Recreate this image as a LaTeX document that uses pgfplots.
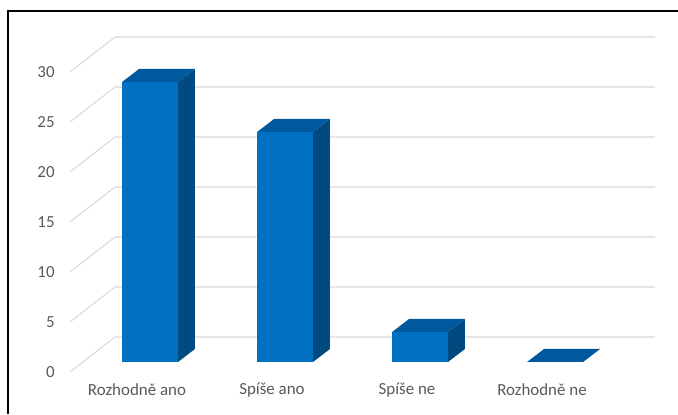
\documentclass[border=0pt]{standalone}
\usepackage{pgfplots}
\pgfplotsset{compat=1.18}
\usepackage{fontspec}
\setmainfont{Carlito}

\definecolor{barfront}{HTML}{0070C0}
\definecolor{bartop}{HTML}{00599E}
\definecolor{barside}{HTML}{004A80}
\definecolor{gridc}{HTML}{D9D9D9}
\definecolor{labc}{HTML}{595959}

% one 3D column: #1 = category position, #2 = value
\newcommand{\colthree}[2]{%
  \pgfmathsetmacro\xl{#1-0.207}%
  \pgfmathsetmacro\xr{#1+0.207}%
  \pgfmathsetmacro\xlb{#1-0.207+0.126}%
  \pgfmathsetmacro\xrb{#1+0.207+0.126}%
  \pgfmathsetmacro\yt{#2+1.3}%
  \addplot[draw=none, fill=barside] coordinates {(\xr,0) (\xrb,1.3) (\xrb,\yt) (\xr,#2)} -- cycle;
  \addplot[draw=none, fill=bartop] coordinates {(\xl,#2) (\xr,#2) (\xrb,\yt) (\xlb,\yt)} -- cycle;
  \addplot[draw=none, fill=barfront] coordinates {(\xl,0) (\xr,0) (\xr,#2) (\xl,#2)} -- cycle;
}

\begin{document}
\begin{tikzpicture}
\begin{axis}[
  width=508.5pt, height=310.5pt, scale only axis,
  xmin=-1.1111, xmax=3.9111,
  ymin=-5.2, ymax=36.2,
  clip=false,
  axis x line*=bottom, axis y line*=left,
  axis line style={draw=none},
  major tick length=0pt,
  ytick={-1,4,9,14,19,24,29},
  yticklabels={0,5,10,15,20,25,30},
  xtick={0,1,2,3},
  xticklabels={Rozhodně ano, Spíše ano, Spíše ne, Rozhodně ne},
  ticklabel style={font=\fontsize{12.7}{14}\selectfont, text=labc},
  yticklabel style={anchor=east, xshift=44.5pt},
  xticklabel style={anchor=center, yshift=18pt, xshift=-9.75pt},
]

% walls: back gridlines and receding floor lines
\pgfplotsinvokeforeach{0,5,...,30}{
  \pgfmathsetmacro\yf{#1-1}
  \pgfmathsetmacro\yb{#1+2.5}
  \addplot[gridc, line width=0.8pt] coordinates {(-0.593,\yf) (-0.259,\yb) (3.74,\yb)};
}

\colthree{0}{28}
\colthree{1}{23}
\colthree{2}{3}
\colthree{3}{0}

\end{axis}
\draw[black, line width=1.1pt] (6pt,0) -- (6pt,302.25pt) -- (509pt,302.25pt);
\pgfresetboundingbox
\path[use as bounding box] (0,0) rectangle (508.5pt,310.5pt);
\end{tikzpicture}
\end{document}
